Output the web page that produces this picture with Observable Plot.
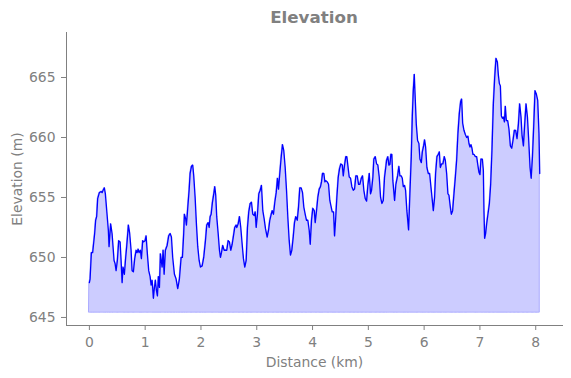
<!DOCTYPE html>
<html>
<head>
<meta charset="utf-8">
<script src="https://cdn.jsdelivr.net/npm/d3@7"></script>
<script src="https://cdn.jsdelivr.net/npm/@observablehq/plot@0.6"></script>
<style>
  html, body { margin: 0; padding: 0; background: #ffffff; }
  #wrap { position: relative; width: 571px; height: 378px; font-family: "DejaVu Sans", sans-serif; }
  #title { position: absolute; left: 66px; width: 496px; top: 7px; text-align: center;
           font-size: 16.7px; font-weight: bold; color: #808080; line-height: 20px; }
  #chart { position: absolute; left: 0; top: 0; }
</style>
</head>
<body>
<div id="wrap">
  <div id="chart"></div>
  <div id="title">Elevation</div>
</div>
<script>
const titleText = "Elevation";
const xLabel = "Distance (km)";
const yLabel = "Elevation (m)";
const xTicks = [0, 1, 2, 3, 4, 5, 6, 7, 8];
const yTicks = [645, 650, 655, 660, 665];
const baseElevation = 645.4;

const distanceKm = [
0.000,0.013,0.036,0.059,0.095,0.113,0.131,0.149,0.179,0.210,0.228,0.246,0.269,0.287,0.317,0.341,0.353,0.382,0.407,0.443,
0.461,0.479,0.502,0.526,0.551,0.569,0.587,0.604,0.628,0.651,0.669,0.700,0.723,0.748,0.766,0.789,0.813,0.838,0.856,0.874,
0.891,0.915,0.933,0.956,0.974,0.999,1.017,1.040,1.064,1.089,1.107,1.125,1.148,1.166,1.184,1.202,1.220,1.238,1.256,1.274,
1.304,1.322,1.340,1.363,1.394,1.422,1.448,1.471,1.494,1.525,1.555,1.584,1.614,1.645,1.668,1.691,1.704,1.727,1.740,1.763,
1.788,1.806,1.830,1.853,1.871,1.896,1.919,1.943,1.968,1.991,2.022,2.050,2.081,2.104,2.129,2.147,2.165,2.183,2.206,2.230,
2.248,2.265,2.283,2.309,2.332,2.350,2.368,2.391,2.416,2.439,2.463,2.488,2.511,2.535,2.560,2.583,2.606,2.631,2.642,2.667,
2.691,2.714,2.739,2.762,2.786,2.811,2.834,2.857,2.883,2.906,2.929,2.954,2.972,2.990,3.013,3.037,3.062,3.085,3.109,3.134,
3.157,3.187,3.211,3.234,3.259,3.277,3.300,3.324,3.349,3.372,3.390,3.413,3.439,3.462,3.485,3.510,3.534,3.557,3.582,3.605,
3.629,3.654,3.677,3.700,3.726,3.749,3.772,3.797,3.821,3.844,3.869,3.892,3.916,3.941,3.959,3.982,4.005,4.031,4.048,4.072,
4.095,4.120,4.143,4.161,4.179,4.203,4.221,4.239,4.264,4.287,4.310,4.335,4.353,4.377,4.395,4.413,4.436,4.461,4.484,4.508,
4.533,4.551,4.574,4.597,4.615,4.640,4.658,4.682,4.705,4.730,4.753,4.777,4.802,4.825,4.848,4.874,4.897,4.920,4.945,4.969,
4.992,5.017,5.040,5.058,5.082,5.099,5.125,5.148,5.171,5.196,5.220,5.243,5.268,5.291,5.315,5.327,5.350,5.368,5.387,5.404,
5.422,5.440,5.471,5.494,5.525,5.548,5.566,5.591,5.609,5.627,5.650,5.668,5.691,5.722,5.745,5.770,5.788,5.806,5.824,5.842,
5.860,5.883,5.907,5.925,5.950,5.968,5.991,6.009,6.027,6.050,6.075,6.099,6.122,6.147,6.165,6.188,6.206,6.230,6.255,6.273,
6.291,6.314,6.337,6.362,6.380,6.404,6.427,6.445,6.470,6.488,6.511,6.535,6.560,6.583,6.606,6.631,6.655,6.673,6.691,6.714,
6.739,6.762,6.786,6.804,6.822,6.840,6.858,6.875,6.893,6.918,6.942,6.960,6.983,7.001,7.019,7.044,7.062,7.073,7.085,7.103,
7.121,7.144,7.170,7.193,7.216,7.241,7.265,7.288,7.313,7.331,7.349,7.367,7.385,7.403,7.421,7.439,7.456,7.474,7.498,7.521,
7.546,7.570,7.593,7.618,7.641,7.665,7.690,7.713,7.737,7.755,7.780,7.803,7.827,7.852,7.875,7.899,7.919,7.942,7.964,7.988,
8.013,8.036,8.059,8.072
];

const elevationM = [
647.9,648.2,650.4,650.4,652.0,653.1,653.4,654.9,655.4,655.5,655.4,655.6,655.8,655.3,653.6,652.25,650.9,652.8,652.0,649.75,
649.5,648.9,649.75,651.4,651.3,649.75,647.9,649.2,648.6,650.0,650.9,652.7,652.0,650.6,648.9,648.8,649.9,650.6,650.4,650.7,
650.4,650.6,649.9,651.4,651.3,651.4,651.8,650.3,648.9,648.4,647.7,648.1,646.6,647.5,648.1,647.25,646.8,648.4,647.5,650.3,
649.2,650.6,648.6,650.6,651.0,651.8,652.0,651.7,650.0,648.6,648.2,647.4,648.2,650.0,650.0,652.0,653.6,653.2,652.7,654.1,
655.6,657.0,657.6,657.7,656.8,655.0,652.8,650.9,649.75,649.2,649.3,650.0,651.4,652.7,652.9,652.5,653.4,653.6,654.6,655.3,
655.9,655.2,653.4,652.0,650.6,650.0,650.4,651.0,650.6,650.6,650.6,651.4,651.3,650.6,651.1,651.8,652.5,652.7,652.5,652.8,
653.4,652.5,651.1,649.9,649.2,649.75,652.5,653.8,654.5,654.6,653.6,653.5,653.8,652.5,653.6,655.3,655.6,656.0,653.9,653.2,
652.4,651.7,652.25,653.1,653.6,653.9,653.6,654.6,655.4,656.6,655.7,657.0,658.4,659.4,658.9,657.5,655.6,653.4,651.4,650.2,
650.6,651.7,652.9,653.4,653.1,654.2,655.8,655.8,655.4,654.2,653.6,653.1,653.1,652.25,651.1,653.1,654.1,653.9,652.9,653.9,
655.0,655.7,655.9,656.3,657.0,657.0,656.3,656.4,656.3,656.1,654.75,654.2,653.8,653.8,651.8,653.1,655.0,656.7,657.4,657.8,
657.7,656.8,657.7,658.4,658.4,657.4,656.7,656.6,655.9,655.6,655.7,656.8,656.8,656.1,656.1,656.6,656.8,655.6,654.9,654.7,
656.0,657.0,655.3,655.6,656.7,658.2,658.4,657.8,657.7,656.7,655.0,654.5,654.75,656.7,657.6,658.1,658.4,657.7,657.75,658.6,
658.6,656.4,654.75,656.1,656.8,657.6,656.8,656.8,656.6,655.9,656.0,655.6,653.9,652.3,655.3,658.4,661.7,663.9,665.25,663.1,
661.1,659.75,659.5,658.2,657.9,658.8,659.3,659.8,659.2,657.5,657.0,657.0,655.9,654.75,653.9,655.0,657.0,658.4,658.6,658.8,
657.5,657.8,657.8,658.4,658.1,657.0,655.3,655.2,654.2,653.6,653.9,655.3,656.7,658.1,660.3,662.0,663.0,663.2,661.2,660.6,
660.25,660.0,660.1,659.5,659.2,659.4,659.1,658.6,658.6,658.4,658.4,657.8,657.1,656.9,658.2,658.2,657.25,653.9,651.6,652.0,
652.8,653.6,654.5,656.1,658.9,662.8,665.0,666.6,666.3,665.2,664.5,664.3,661.8,661.6,661.7,661.3,662.6,661.4,661.4,660.7,
659.3,659.1,659.75,660.6,660.6,659.9,661.1,662.8,661.7,660.2,659.3,661.1,662.8,661.7,659.75,657.5,656.6,658.4,660.9,663.9,
663.6,663.1,660.3,657.0
];

const profile = distanceKm.map((d, i) => ({distance: d, elevation: elevationM[i], base: baseElevation}));

document.getElementById("title").textContent = titleText;

const chart = Plot.plot({
  width: 571,
  height: 378,
  marginTop: 32,
  marginBottom: 53,
  marginLeft: 66,
  marginRight: 9,
  style: {fontFamily: "DejaVu Sans, sans-serif", fontSize: "13.9px", color: "#808080", background: "#ffffff"},
  x: {
    domain: [-0.41, 8.48],
    ticks: xTicks,
    tickFormat: d => String(d),
    tickSize: 5,
    tickPadding: 7,
    line: true,
    label: xLabel,
    labelArrow: "none",
    labelAnchor: "center",
    labelOffset: 41
  },
  y: {
    domain: [644.33, 668.75],
    ticks: yTicks,
    tickFormat: d => String(d),
    tickSize: 5,
    tickPadding: 6,
    line: true,
    label: yLabel,
    labelArrow: "none",
    labelAnchor: "center",
    labelOffset: 54
  },
  marks: [
    Plot.areaY(profile, {x: "distance", y1: "base", y2: "elevation", fill: "#ccccff", stroke: "#aaaaff", strokeWidth: 1}),
    Plot.lineY(profile, {x: "distance", y: "elevation", stroke: "#0000ff", strokeWidth: 1.3})
  ]
});
document.getElementById("chart").appendChild(chart);
</script>
</body>
</html>
